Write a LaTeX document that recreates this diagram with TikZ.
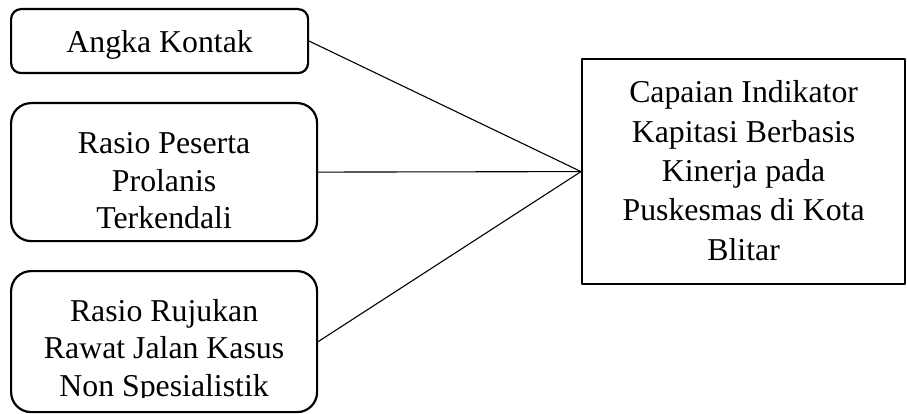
\documentclass[tikz,border=0pt]{standalone}
\usepackage{fontspec}
\setmainfont{Liberation Serif}
\begin{document}
\begin{tikzpicture}
% Framework diagram: three indicators feeding one outcome
\def\pxsz{1pt}
\providecommand{\fwBoxLineWidth}{2.2pt}
\providecommand{\fwLinkLineWidth}{1.1pt}
\providecommand{\fwFontLeft}{\fontsize{31.8}{37.5}\selectfont}
\providecommand{\fwFontRight}{\fontsize{31.8}{39.3}\selectfont}
\begin{scope}[x=\pxsz, y=-\pxsz, line cap=round, line join=round,
  fwbox/.style={draw=black, line width=\fwBoxLineWidth, anchor=north west, inner sep=0pt},
  fwtext/.style={align=center, font=\fwFontLeft, inner sep=0pt},
  fwtextright/.style={align=center, font=\fwFontRight, inner sep=0pt},
  fwlink/.style={draw=black, line width=\fwLinkLineWidth}]
  % Page frame
  \useasboundingbox (0,0) rectangle (907,414);
  % Indicator boxes (rounded corners)
  \node[fwbox, rounded corners=10, minimum width=297, minimum height=64] (kontak) at (10,8) {};
  \node[fwbox, rounded corners=20, minimum width=306, minimum height=138] (prolanis) at (10,102) {};
  \node[fwbox, rounded corners=20, minimum width=306, minimum height=141] (rujukan) at (10,270) {};
  \node[fwtext] (kontaktext) at ([yshift=-4pt]kontak.center) {Angka Kontak};
  \node[fwtext] (prolanistext) at ([yshift=-9pt]prolanis.center) {Rasio Peserta\\Prolanis\\Terkendali};
  % Text of the last box runs past its frame, so it is cut off
  \begin{scope}
    \clip (rujukan.north west) rectangle ([yshift=15.5pt]rujukan.south east);
    \node[fwtext] (rujukantext) at ([yshift=-9.5pt]rujukan.center) {Rasio Rujukan\\Rawat Jalan Kasus\\Non Spesialistik};
  \end{scope}
  % Outcome box
  \node[fwbox, minimum width=323, minimum height=225] (capaian) at (581,58) {};
  \node[fwtextright] (capaiantext) at ([yshift=1pt]capaian.center) {Capaian Indikator\\Kapitasi Berbasis\\Kinerja pada\\Puskesmas di Kota\\Blitar};
  % Links
  \draw[fwlink] (kontak.east) -- (capaian.west);
  \draw[fwlink] (prolanis.east) -- (capaian.west);
  \draw[fwlink] (rujukan.east) -- (capaian.west);
\end{scope}
\end{tikzpicture}
\end{document}
